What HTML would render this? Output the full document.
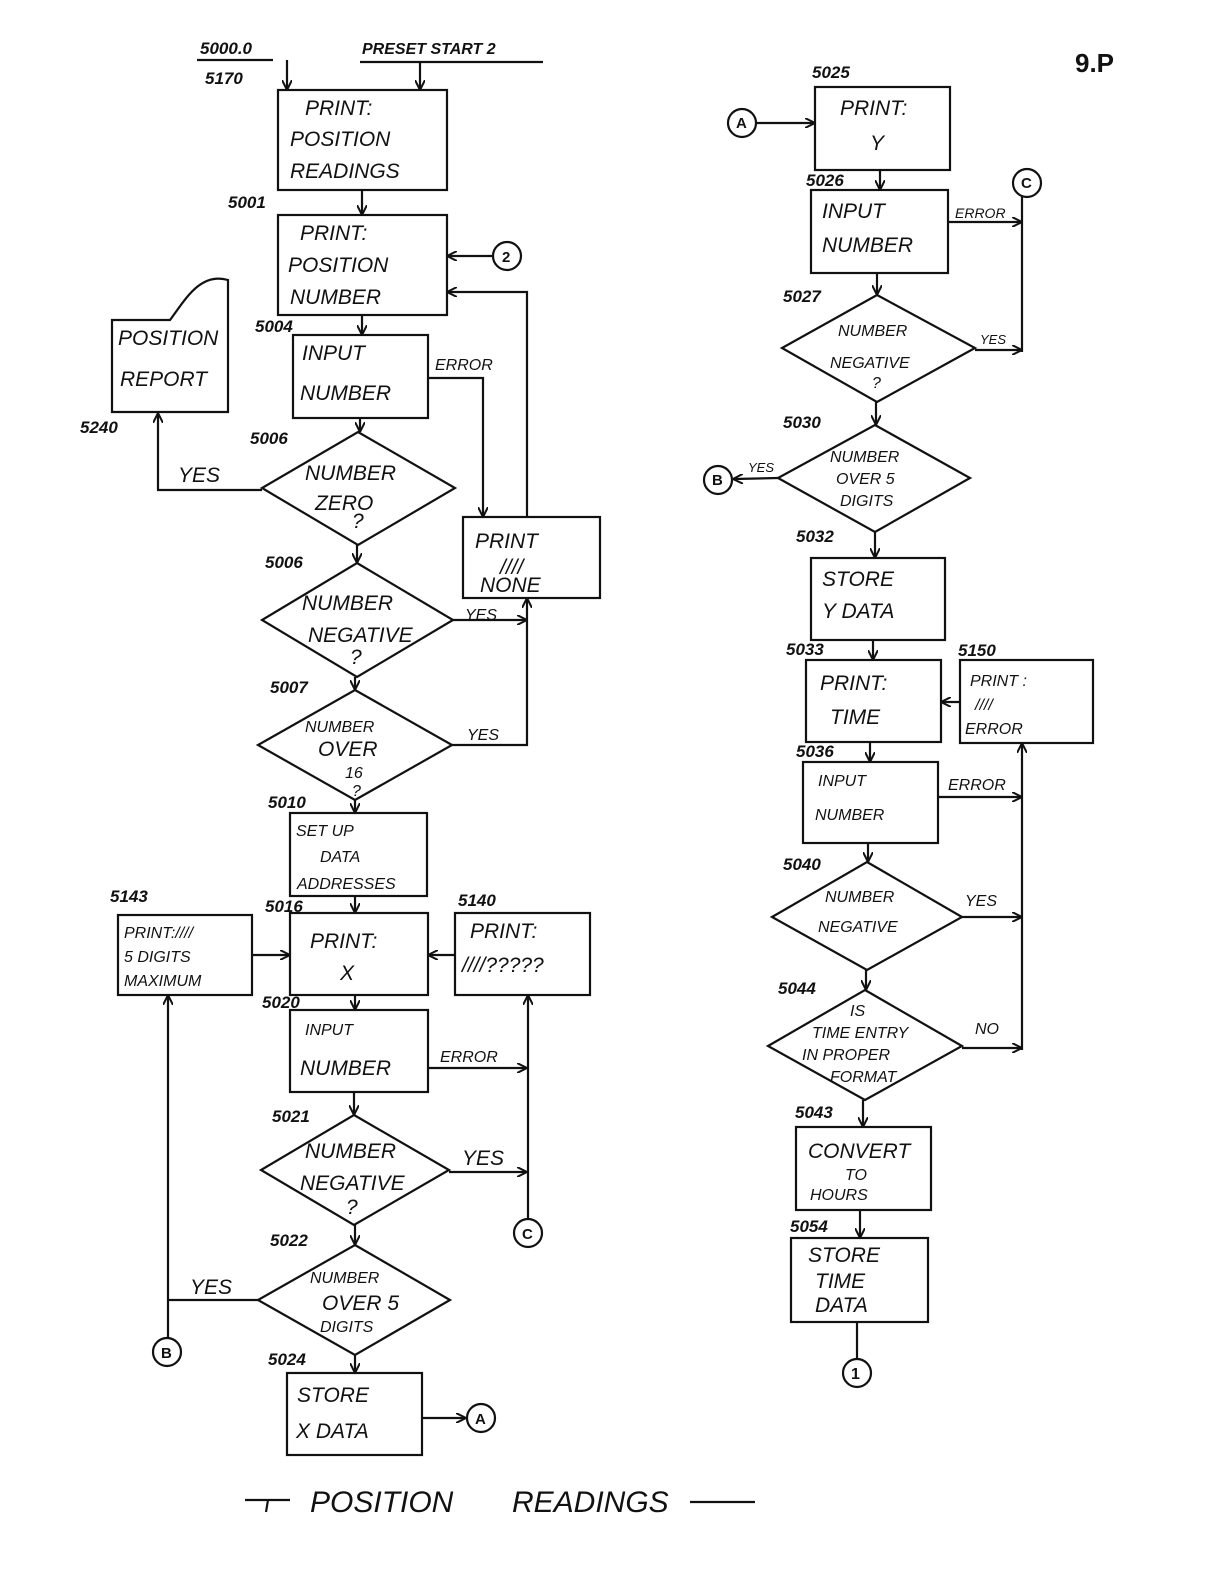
<!DOCTYPE html>
<html><head><meta charset="utf-8"><style>
html,body{margin:0;padding:0;background:#fff}
svg{display:block}
text{font-family:"Liberation Sans",sans-serif;font-style:italic;fill:#111}
.n{font-size:17px;font-weight:bold}
.t{font-size:21px}
.s{font-size:16px}
</style></head><body>
<svg width="1224" height="1584" viewBox="0 0 1224 1584" xmlns="http://www.w3.org/2000/svg">
<defs><marker id="a" markerWidth="10" markerHeight="10" refX="9" refY="5" orient="auto" markerUnits="userSpaceOnUse"><path d="M0,0 L10,5 L0,10" fill="none" stroke="#111" stroke-width="2"/></marker></defs>
<g stroke="#111" stroke-width="2.2" fill="none">
<!-- top entries -->
<line x1="197" y1="60" x2="273" y2="60"/><line x1="360" y1="62" x2="543" y2="62"/>
<line x1="287" y1="60" x2="287" y2="89" marker-end="url(#a)"/>
<line x1="420" y1="62" x2="420" y2="89" marker-end="url(#a)"/>
<rect x="278" y="90" width="169" height="100"/>
<line x1="362" y1="190" x2="362" y2="214" marker-end="url(#a)"/>
<rect x="278" y="215" width="169" height="100"/>
<circle cx="507" cy="256" r="14"/><line x1="493" y1="256" x2="448" y2="256" marker-end="url(#a)"/>
<polyline points="527,517 527,292 448,292" marker-end="url(#a)"/>
<line x1="362" y1="315" x2="362" y2="334" marker-end="url(#a)"/>
<rect x="293" y="335" width="135" height="83"/>
<polyline points="428,378 483,378 483,516" marker-end="url(#a)"/>
<line x1="360" y1="418" x2="360" y2="431" marker-end="url(#a)"/>
<polygon points="358,432 455,488 358,545 262,488"/>
<polyline points="262,490 158,490 158,414" marker-end="url(#a)"/>
<path d="M112,412 L112,320 L170,320 C185,300 200,272 228,280 L228,412 Z"/>
<line x1="357" y1="545" x2="357" y2="562" marker-end="url(#a)"/>
<polygon points="357,563 453,620 357,677 262,620"/>
<line x1="453" y1="620" x2="526" y2="620" marker-end="url(#a)"/>
<rect x="463" y="517" width="137" height="81"/>
<line x1="355" y1="677" x2="355" y2="689" marker-end="url(#a)"/>
<polygon points="355,690 452,745 355,800 258,745"/>
<polyline points="452,745 527,745 527,599" marker-end="url(#a)"/>
<line x1="355" y1="800" x2="355" y2="812" marker-end="url(#a)"/>
<rect x="290" y="813" width="137" height="83"/>
<line x1="355" y1="896" x2="355" y2="912" marker-end="url(#a)"/>
<rect x="118" y="915" width="134" height="80"/>
<line x1="252" y1="955" x2="289" y2="955" marker-end="url(#a)"/>
<rect x="290" y="913" width="138" height="82"/>
<rect x="455" y="913" width="135" height="82"/>
<line x1="455" y1="955" x2="429" y2="955" marker-end="url(#a)"/>
<line x1="355" y1="995" x2="355" y2="1009" marker-end="url(#a)"/>
<rect x="290" y="1010" width="138" height="82"/>
<line x1="428" y1="1068" x2="526" y2="1068" marker-end="url(#a)"/>
<circle cx="528" cy="1233" r="14"/>
<line x1="528" y1="1219" x2="528" y2="996" marker-end="url(#a)"/>
<line x1="354" y1="1092" x2="354" y2="1114" marker-end="url(#a)"/>
<polygon points="354,1115 449,1170 354,1225 261,1170"/>
<line x1="449" y1="1172" x2="526" y2="1172" marker-end="url(#a)"/>
<line x1="355" y1="1225" x2="355" y2="1244" marker-end="url(#a)"/>
<polygon points="355,1245 450,1300 355,1355 258,1300"/>
<line x1="258" y1="1300" x2="168" y2="1300"/>
<circle cx="167" cy="1352" r="14"/>
<line x1="168" y1="1338" x2="168" y2="996" marker-end="url(#a)"/>
<line x1="355" y1="1355" x2="355" y2="1372" marker-end="url(#a)"/>
<rect x="287" y="1373" width="135" height="82"/>
<line x1="422" y1="1418" x2="465" y2="1418" marker-end="url(#a)"/>
<circle cx="481" cy="1418" r="14"/>
<!-- right column -->
<circle cx="742" cy="123" r="14"/>
<line x1="756" y1="123" x2="814" y2="123" marker-end="url(#a)"/>
<rect x="815" y="87" width="135" height="83"/>
<line x1="880" y1="170" x2="880" y2="189" marker-end="url(#a)"/>
<rect x="811" y="190" width="137" height="83"/>
<circle cx="1027" cy="183" r="14"/>
<line x1="948" y1="222" x2="1021" y2="222" marker-end="url(#a)"/>
<line x1="1022" y1="197" x2="1022" y2="352"/>
<line x1="975" y1="350" x2="1021" y2="350" marker-end="url(#a)"/>
<line x1="877" y1="273" x2="877" y2="294" marker-end="url(#a)"/>
<polygon points="877,295 975,348 877,402 782,348"/>
<line x1="876" y1="402" x2="876" y2="424" marker-end="url(#a)"/>
<polygon points="875,425 970,478 875,532 778,478"/>
<line x1="778" y1="478" x2="734" y2="479" marker-end="url(#a)"/>
<circle cx="718" cy="480" r="14"/>
<line x1="875" y1="532" x2="875" y2="557" marker-end="url(#a)"/>
<rect x="811" y="558" width="134" height="82"/>
<line x1="873" y1="640" x2="873" y2="659" marker-end="url(#a)"/>
<rect x="806" y="660" width="135" height="82"/>
<rect x="960" y="660" width="133" height="83"/>
<line x1="960" y1="702" x2="942" y2="702" marker-end="url(#a)"/>
<line x1="870" y1="742" x2="870" y2="761" marker-end="url(#a)"/>
<rect x="803" y="762" width="135" height="81"/>
<line x1="938" y1="797" x2="1021" y2="797" marker-end="url(#a)"/>
<line x1="1022" y1="1050" x2="1022" y2="744" marker-end="url(#a)"/>
<line x1="868" y1="843" x2="868" y2="861" marker-end="url(#a)"/>
<polygon points="867,862 962,917 867,970 772,917"/>
<line x1="962" y1="917" x2="1021" y2="917" marker-end="url(#a)"/>
<line x1="866" y1="970" x2="866" y2="989" marker-end="url(#a)"/>
<polygon points="865,990 962,1046 865,1100 768,1046"/>
<line x1="962" y1="1048" x2="1021" y2="1048" marker-end="url(#a)"/>
<line x1="863" y1="1100" x2="863" y2="1126" marker-end="url(#a)"/>
<rect x="796" y="1127" width="135" height="83"/>
<line x1="860" y1="1210" x2="860" y2="1237" marker-end="url(#a)"/>
<rect x="791" y="1238" width="137" height="84"/>
<line x1="857" y1="1322" x2="857" y2="1359"/>
<circle cx="857" cy="1373" r="14"/>
<!-- title dashes -->
<line x1="245" y1="1500" x2="290" y2="1500"/><line x1="268" y1="1500" x2="266" y2="1512"/>
<line x1="690" y1="1502" x2="755" y2="1502"/>
</g>
<g>
<text class="n" x="200" y="54">5000.0</text>
<text class="s" x="362" y="54" font-weight="bold">PRESET START 2</text>
<text class="n" x="205" y="84">5170</text>
<text class="n" x="1075" y="72" style="font-size:26px;font-style:normal">9.P</text>
<text class="t" x="305" y="115">PRINT:</text><text class="t" x="290" y="146">POSITION</text><text class="t" x="290" y="178">READINGS</text>
<text class="n" x="228" y="208">5001</text>
<text class="t" x="300" y="240">PRINT:</text><text class="t" x="288" y="272">POSITION</text><text class="t" x="290" y="304">NUMBER</text>
<text class="n" x="255" y="332">5004</text>
<text class="t" x="302" y="360">INPUT</text><text class="t" x="300" y="400">NUMBER</text>
<text class="s" x="435" y="370">ERROR</text>
<text class="t" x="118" y="345">POSITION</text><text class="t" x="120" y="386">REPORT</text>
<text class="n" x="80" y="433">5240</text>
<text class="n" x="250" y="444">5006</text>
<text class="t" x="305" y="480">NUMBER</text><text class="t" x="315" y="510">ZERO</text><text class="t" x="352" y="528">?</text>
<text class="t" x="178" y="482">YES</text>
<text class="t" x="475" y="548">PRINT</text><text class="t" x="500" y="574">////</text><text class="t" x="480" y="592">NONE</text>
<text class="n" x="265" y="568">5006</text>
<text class="t" x="302" y="610">NUMBER</text><text class="t" x="308" y="642">NEGATIVE</text><text class="t" x="350" y="664">?</text>
<text class="s" x="465" y="620">YES</text>
<text class="n" x="270" y="693">5007</text>
<text class="s" x="305" y="732">NUMBER</text><text class="t" x="318" y="756">OVER</text><text class="s" x="345" y="778">16</text><text class="s" x="352" y="796">?</text>
<text class="s" x="467" y="740">YES</text>
<text class="n" x="268" y="808">5010</text>
<text class="s" x="296" y="836">SET UP</text><text class="s" x="320" y="862">DATA</text><text class="s" x="297" y="889">ADDRESSES</text>
<text class="n" x="110" y="902">5143</text>
<text class="s" x="124" y="938">PRINT:////</text><text class="s" x="124" y="962">5 DIGITS</text><text class="s" x="124" y="986">MAXIMUM</text>
<text class="n" x="265" y="912">5016</text>
<text class="t" x="310" y="948">PRINT:</text><text class="t" x="340" y="980">X</text>
<text class="n" x="458" y="906">5140</text>
<text class="t" x="470" y="938">PRINT:</text><text class="t" x="462" y="972">////?????</text>
<text class="n" x="262" y="1008">5020</text>
<text class="s" x="305" y="1035">INPUT</text><text class="t" x="300" y="1075">NUMBER</text>
<text class="s" x="440" y="1062">ERROR</text>
<text class="n" x="272" y="1122">5021</text>
<text class="t" x="305" y="1158">NUMBER</text><text class="t" x="300" y="1190">NEGATIVE</text><text class="t" x="346" y="1214">?</text>
<text class="t" x="462" y="1165">YES</text>
<text class="n" x="270" y="1246">5022</text>
<text class="s" x="310" y="1283">NUMBER</text><text class="t" x="322" y="1310">OVER 5</text><text class="s" x="320" y="1332">DIGITS</text>
<text class="t" x="190" y="1294">YES</text>
<text class="n" x="268" y="1365">5024</text>
<text class="t" x="297" y="1402">STORE</text><text class="t" x="296" y="1438">X DATA</text>
<text class="n" x="812" y="78">5025</text>
<text class="t" x="840" y="115">PRINT:</text><text class="t" x="870" y="150">Y</text>
<text class="n" x="806" y="186">5026</text>
<text class="t" x="822" y="218">INPUT</text><text class="t" x="822" y="252">NUMBER</text>
<text class="s" x="955" y="218" style="font-size:14px">ERROR</text>
<text class="n" x="783" y="302">5027</text>
<text class="s" x="838" y="336">NUMBER</text><text class="s" x="830" y="368">NEGATIVE</text><text class="s" x="872" y="388">?</text>
<text class="s" x="980" y="344" style="font-size:13px">YES</text>
<text class="n" x="783" y="428">5030</text>
<text class="s" x="830" y="462">NUMBER</text><text class="s" x="836" y="484">OVER 5</text><text class="s" x="840" y="506">DIGITS</text>
<text class="s" x="748" y="472" style="font-size:13px">YES</text>
<text class="n" x="796" y="542">5032</text>
<text class="t" x="822" y="586">STORE</text><text class="t" x="822" y="618">Y DATA</text>
<text class="n" x="786" y="655">5033</text>
<text class="t" x="820" y="690">PRINT:</text><text class="t" x="830" y="724">TIME</text>
<text class="n" x="958" y="656">5150</text>
<text class="s" x="970" y="686">PRINT :</text><text class="s" x="975" y="710">////</text><text class="s" x="965" y="734">ERROR</text>
<text class="n" x="796" y="757">5036</text>
<text class="s" x="818" y="786">INPUT</text><text class="s" x="815" y="820">NUMBER</text>
<text class="s" x="948" y="790">ERROR</text>
<text class="n" x="783" y="870">5040</text>
<text class="s" x="825" y="902">NUMBER</text><text class="s" x="818" y="932">NEGATIVE</text>
<text class="s" x="965" y="906">YES</text>
<text class="n" x="778" y="994">5044</text>
<text class="s" x="850" y="1016">IS</text><text class="s" x="812" y="1038">TIME ENTRY</text><text class="s" x="802" y="1060">IN PROPER</text><text class="s" x="830" y="1082">FORMAT</text>
<text class="s" x="975" y="1034">NO</text>
<text class="n" x="795" y="1118">5043</text>
<text class="t" x="808" y="1158">CONVERT</text><text class="s" x="845" y="1180">TO</text><text class="s" x="810" y="1200">HOURS</text>
<text class="n" x="790" y="1232">5054</text>
<text class="t" x="808" y="1262">STORE</text><text class="t" x="815" y="1288">TIME</text><text class="t" x="815" y="1312">DATA</text>
<text class="n" x="736" y="128" style="font-size:15px;font-style:normal">A</text>
<text class="n" x="1021" y="188" style="font-size:15px;font-style:normal">C</text>
<text class="n" x="712" y="485" style="font-size:15px;font-style:normal">B</text>
<text class="n" x="851" y="1379" style="font-size:16px;font-style:normal">1</text>
<text class="n" x="502" y="262" style="font-size:15px;font-style:normal">2</text>
<text class="n" x="475" y="1424" style="font-size:15px;font-style:normal">A</text>
<text class="n" x="522" y="1239" style="font-size:15px;font-style:normal">C</text>
<text class="n" x="161" y="1358" style="font-size:15px;font-style:normal">B</text>
<text x="310" y="1512" style="font-size:30px">POSITION</text>
<text x="512" y="1512" style="font-size:30px">READINGS</text>
</g>
</svg>
</body></html>
